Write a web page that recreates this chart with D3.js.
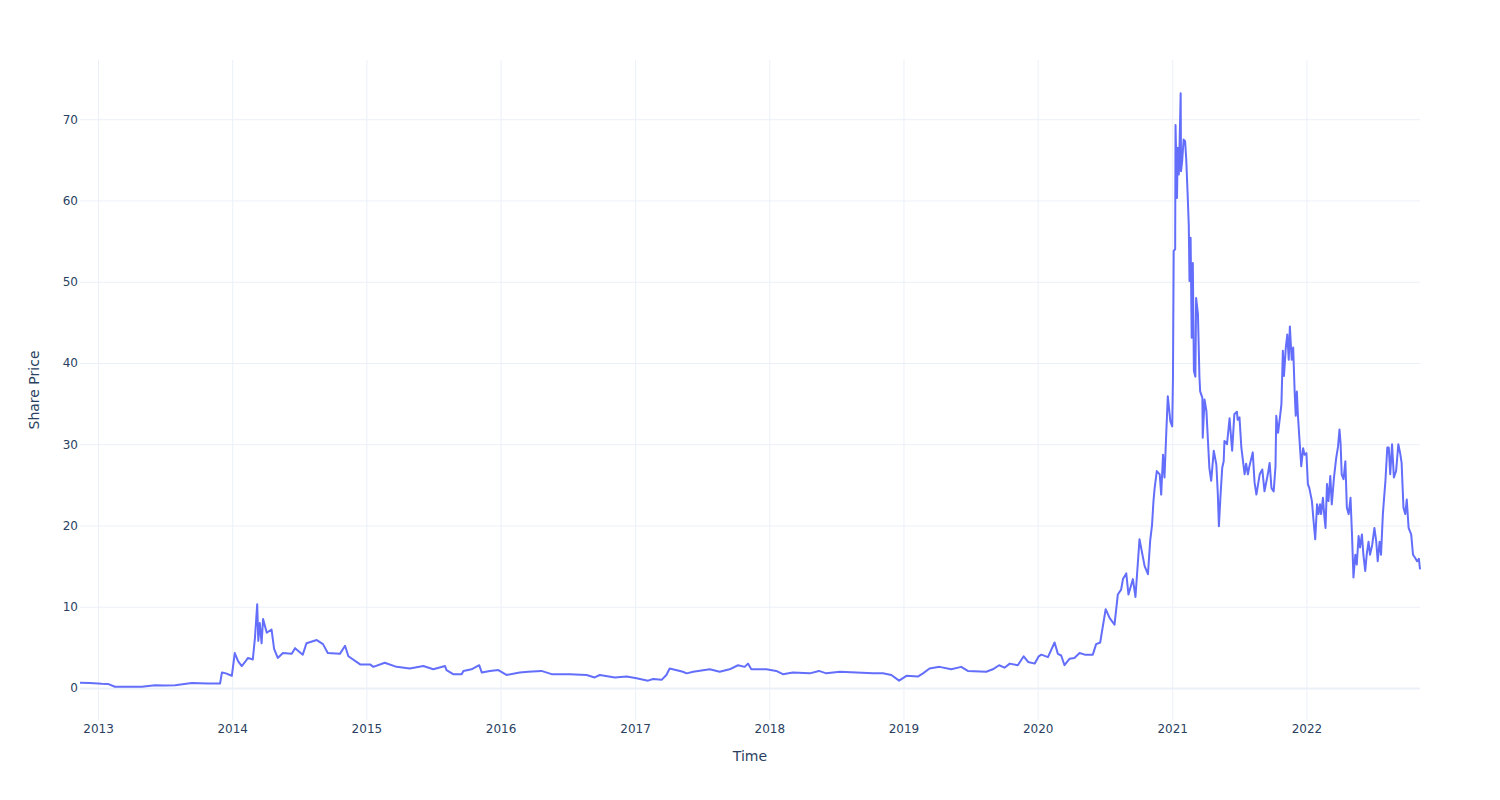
<!DOCTYPE html>
<html>
<head>
<meta charset="utf-8">
<script src="https://cdn.jsdelivr.net/npm/d3@7"></script>
<style>
  body { margin: 0; background: #fff; }
  svg { display: block; font-family: "DejaVu Sans", Verdana, sans-serif; }
</style>
</head>
<body>
<svg id="chart" width="1500" height="800"></svg>
<script>
const dates = [
  "2012-11-13","2012-12-10","2013-01-11","2013-01-28","2013-02-16","2013-03-23","2013-04-30","2013-06-05","2013-07-02","2013-07-30",
  "2013-09-13","2013-10-27","2013-11-29","2013-12-04","2013-12-15","2013-12-31",
  "2014-01-08","2014-01-17","2014-01-27","2014-02-05","2014-02-13","2014-02-26","2014-03-04","2014-03-10","2014-03-13","2014-03-17",
  "2014-03-22","2014-03-26","2014-04-05","2014-04-18","2014-04-25","2014-05-05","2014-05-19","2014-06-12","2014-06-21","2014-07-12",
  "2014-07-22","2014-08-19","2014-09-05","2014-09-18","2014-10-21","2014-11-04","2014-11-13","2014-12-15",
  "2015-01-11","2015-01-20","2015-02-20","2015-03-24","2015-04-29","2015-06-05","2015-07-02","2015-08-03","2015-08-07","2015-08-25",
  "2015-09-17","2015-09-22","2015-10-14","2015-11-04","2015-11-11","2015-12-03","2015-12-26",
  "2016-01-17","2016-02-22","2016-03-16","2016-04-21","2016-05-19","2016-07-07","2016-08-22","2016-09-13","2016-09-27","2016-11-07","2016-12-09",
  "2017-01-05","2017-02-05","2017-02-19","2017-03-14","2017-03-27","2017-04-05","2017-05-11","2017-05-21","2017-06-08","2017-07-23",
  "2017-08-19","2017-09-15","2017-10-08","2017-10-26","2017-11-04","2017-11-13","2017-12-24",
  "2018-01-20","2018-02-07","2018-03-06","2018-04-21","2018-05-16","2018-06-05","2018-07-12","2018-08-26","2018-10-10","2018-11-06","2018-11-29","2018-12-20",
  "2019-01-09","2019-02-09","2019-02-23","2019-03-13","2019-04-09","2019-05-11","2019-06-07","2019-06-25","2019-08-14","2019-09-01",
  "2019-09-18","2019-10-03","2019-10-17","2019-11-08","2019-11-24","2019-12-06","2019-12-24",
  "2020-01-04","2020-01-11","2020-01-29","2020-02-16","2020-02-25","2020-03-05","2020-03-14","2020-03-28","2020-04-10","2020-04-24",
  "2020-05-08","2020-05-30","2020-06-08","2020-06-19","2020-07-04","2020-07-15","2020-07-28","2020-08-06","2020-08-15","2020-08-20",
  "2020-08-29","2020-09-04","2020-09-16","2020-09-23","2020-10-04","2020-10-18","2020-10-27","2020-11-02","2020-11-07","2020-11-11",
  "2020-11-14","2020-11-20","2020-11-28","2020-12-02","2020-12-07","2020-12-11","2020-12-16","2020-12-20","2020-12-27","2021-01-01",
  "2021-01-03","2021-01-05","2021-01-09","2021-01-10","2021-01-14","2021-01-16","2021-01-19","2021-01-21","2021-01-24","2021-01-25",
  "2021-01-28","2021-02-01","2021-02-05","2021-02-08","2021-02-12","2021-02-15","2021-02-17","2021-02-20","2021-02-23","2021-02-26",
  "2021-03-01","2021-03-05","2021-03-07","2021-03-12","2021-03-16","2021-03-18","2021-03-24","2021-03-25","2021-03-30","2021-04-04",
  "2021-04-12","2021-04-17","2021-04-24","2021-05-01","2021-05-05","2021-05-08","2021-05-12","2021-05-17","2021-05-21","2021-05-23",
  "2021-05-30","2021-06-06","2021-06-13","2021-06-19","2021-06-26","2021-06-28","2021-07-03","2021-07-08","2021-07-17","2021-07-21",
  "2021-07-26","2021-07-30","2021-08-08","2021-08-13","2021-08-18","2021-08-27","2021-09-03","2021-09-09","2021-09-18","2021-09-23",
  "2021-09-28","2021-10-04","2021-10-09","2021-10-11","2021-10-16","2021-10-22","2021-10-25","2021-10-29","2021-11-01","2021-11-06",
  "2021-11-10","2021-11-14","2021-11-17","2021-11-22","2021-11-26","2021-11-30","2021-12-03","2021-12-06","2021-12-09","2021-12-14",
  "2021-12-18","2021-12-23","2021-12-27",
  "2022-01-01","2022-01-05","2022-01-09","2022-01-16","2022-01-20","2022-01-25","2022-01-30","2022-02-03","2022-02-07","2022-02-10",
  "2022-02-15","2022-02-19","2022-02-22","2022-02-26","2022-03-02","2022-03-07","2022-03-11","2022-03-17","2022-03-23","2022-03-28",
  "2022-04-01","2022-04-04","2022-04-07","2022-04-12","2022-04-17","2022-04-21","2022-04-26","2022-05-01","2022-05-05","2022-05-09",
  "2022-05-14","2022-05-18","2022-05-23","2022-05-27","2022-06-01","2022-06-05","2022-06-10","2022-06-14","2022-06-19","2022-06-23",
  "2022-06-29","2022-07-05","2022-07-10","2022-07-14","2022-07-19","2022-07-23","2022-07-28","2022-08-01","2022-08-04","2022-08-09",
  "2022-08-13","2022-08-17","2022-08-22","2022-08-27","2022-09-02","2022-09-08","2022-09-13","2022-09-17","2022-09-22","2022-09-27",
  "2022-10-01","2022-10-06","2022-10-13","2022-10-18","2022-10-24","2022-10-29","2022-11-03","2022-11-06"
];
const prices = [
  0.65,0.62,0.53,0.5,0.15,0.15,0.15,0.35,0.3,0.35,
  0.6,0.55,0.55,1.9,1.8,1.5,
  4.3,3.3,2.7,3.2,3.7,3.5,6.2,10.3,5.8,8.0,
  5.5,8.5,6.8,7.2,4.8,3.7,4.3,4.2,4.9,4.1,
  5.5,5.9,5.4,4.3,4.2,5.2,3.9,2.9,
  2.9,2.6,3.1,2.6,2.4,2.7,2.3,2.7,2.2,1.7,
  1.7,2.1,2.3,2.8,1.9,2.1,2.2,
  1.6,1.9,2.0,2.1,1.7,1.7,1.6,1.3,1.6,1.3,1.4,
  1.2,0.9,1.1,1.0,1.6,2.4,2.0,1.8,2.0,2.3,
  2.0,2.3,2.8,2.6,3.0,2.3,2.3,
  2.1,1.7,1.9,1.8,2.1,1.8,2.0,1.9,1.8,1.8,1.6,0.9,
  1.5,1.4,1.8,2.4,2.6,2.3,2.6,2.1,2.0,2.3,
  2.8,2.5,3.0,2.8,3.9,3.2,3.0,
  3.9,4.1,3.8,5.6,4.2,4.0,2.8,3.6,3.7,4.3,
  4.1,4.1,5.4,5.6,9.7,8.6,7.8,11.5,12.1,13.4,
  14.1,11.5,13.4,11.2,18.3,15.0,14.0,18.1,20.0,23.0,
  24.5,26.7,26.3,23.8,28.7,25.9,31.6,35.9,32.8,32.2,
  38.0,53.8,54.0,69.3,60.3,66.5,63.2,66.9,73.2,63.6,
  64.8,67.5,67.3,65.2,60.7,57.0,50.1,55.4,43.1,52.3,
  39.0,38.3,48.0,46.0,38.3,36.5,35.7,30.8,35.5,34.1,
  27.1,25.5,29.2,27.5,23.9,19.9,23.4,27.1,27.9,30.4,
  30.0,33.2,29.2,33.7,34.0,33.0,33.3,29.6,26.3,27.6,
  26.3,27.3,29.0,25.3,23.8,26.3,26.9,24.2,26.3,27.7,
  24.6,24.2,27.3,33.5,31.4,33.7,34.9,41.5,38.4,41.9,
  43.5,40.4,44.5,40.4,41.9,36.5,33.5,36.5,33.5,30.0,
  27.3,29.5,28.7,
  28.9,25.1,24.6,23.0,20.8,18.3,22.6,21.4,22.6,21.4,
  23.4,21.0,19.7,25.1,23.0,26.1,22.6,25.9,28.3,29.7,
  31.8,30.1,26.3,25.7,27.9,22.2,21.4,23.4,18.9,13.6,
  16.4,15.2,18.7,17.3,18.9,16.4,14.4,16.4,18.0,16.4,
  17.6,19.7,18.0,15.6,18.0,16.4,21.4,23.8,25.5,29.6,
  29.6,26.3,30.0,25.9,26.7,30.0,28.9,27.7,22.2,21.4,
  23.2,19.7,18.9,16.4,16.0,15.6,15.9,14.6
];
const yTicks = [0, 10, 20, 30, 40, 50, 60, 70];
const xTickYears = [2013, 2014, 2015, 2016, 2017, 2018, 2019, 2020, 2021, 2022];
const xTitle = "Time";
const yTitle = "Share Price";

const parse = d3.timeParse("%Y-%m-%d");
const data = dates.map((d, i) => ({ date: parse(d), value: prices[i] }));

const W = 1500, H = 800;
const margin = { left: 80, right: 80, top: 60, bottom: 80 };
const svg = d3.select("#chart");

const x = d3.scaleTime()
  .domain(d3.extent(data, d => d.date))
  .range([margin.left, W - margin.right]);

const [ymin, ymax] = d3.extent(data, d => d.value);
const pad = (ymax - ymin) * 0.056;
const y = d3.scaleLinear()
  .domain([ymin - pad, ymax + pad])
  .range([H - margin.bottom, margin.top]);

const grid = "#EBF0F8";
const textColor = "#2a3f5f";

// vertical grid + x tick labels
const xTicks = xTickYears.map(yr => new Date(yr, 0, 1));
svg.append("g")
  .attr("transform", `translate(0,${H - margin.bottom})`)
  .call(d3.axisBottom(x).tickValues(xTicks).tickFormat(d3.timeFormat("%Y"))
    .tickSize(-(H - margin.top - margin.bottom)).tickPadding(4))
  .call(g => g.select(".domain").remove())
  .call(g => g.selectAll(".tick line").attr("stroke", grid).attr("stroke-width", 1))
  .call(g => g.selectAll(".tick text").attr("fill", textColor).attr("font-size", 12)
    .attr("font-family", "DejaVu Sans, Verdana, sans-serif"));

// horizontal grid + y tick labels
svg.append("g")
  .attr("transform", `translate(${margin.left},0)`)
  .call(d3.axisLeft(y).tickValues(yTicks).tickFormat(d3.format("d"))
    .tickSize(-(W - margin.left - margin.right)).tickPadding(2))
  .call(g => g.select(".domain").remove())
  .call(g => g.selectAll(".tick line").attr("stroke", grid)
    .attr("stroke-width", d => d === 0 ? 2 : 1))
  .call(g => g.selectAll(".tick text").attr("fill", textColor).attr("font-size", 12)
    .attr("font-family", "DejaVu Sans, Verdana, sans-serif"));

// line
const line = d3.line().x(d => x(d.date)).y(d => y(d.value));
svg.append("path")
  .datum(data)
  .attr("fill", "none")
  .attr("stroke", "#636efa")
  .attr("stroke-width", 2)
  .attr("stroke-linejoin", "round")
  .attr("d", line);

// axis titles
svg.append("text")
  .attr("x", (margin.left + W - margin.right) / 2)
  .attr("y", 761)
  .attr("text-anchor", "middle")
  .attr("fill", textColor)
  .attr("font-size", 14)
  .text(xTitle);

svg.append("text")
  .attr("transform", `translate(39,${(margin.top + H - margin.bottom) / 2}) rotate(-90)`)
  .attr("text-anchor", "middle")
  .attr("fill", textColor)
  .attr("font-size", 14)
  .text(yTitle);
</script>
</body>
</html>
